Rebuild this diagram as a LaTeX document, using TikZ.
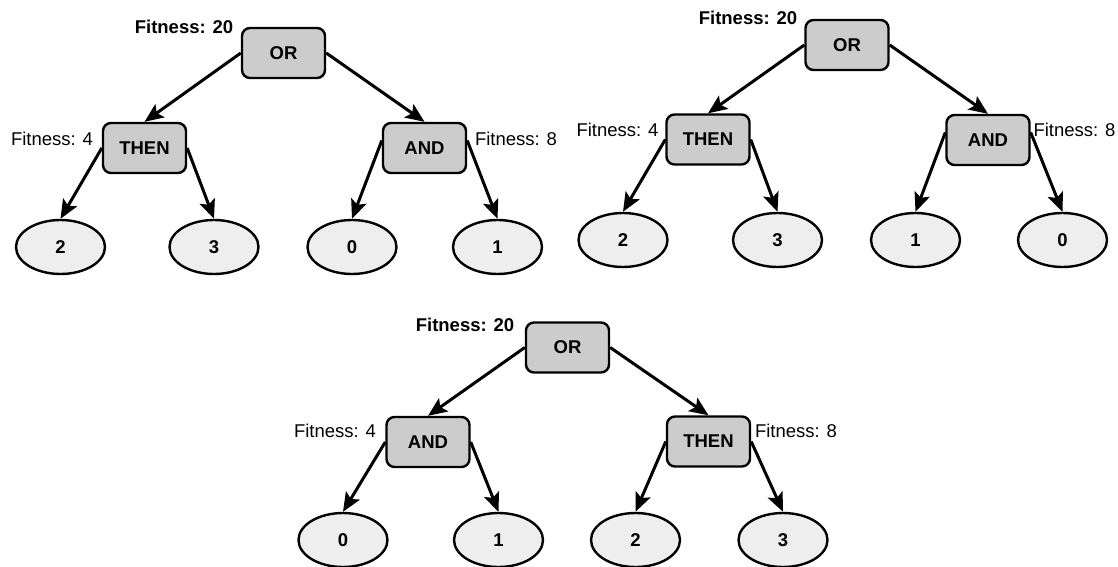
\documentclass[tikz,border=0pt]{standalone}
\usepackage{fontspec}
\setmainfont{Liberation Sans}
\usetikzlibrary{arrows.meta,shapes.geometric}
\definecolor{boxgray}{HTML}{CCCCCC}
\definecolor{leafgray}{HTML}{EEEEEE}
\begin{document}
\begin{tikzpicture}[x=1pt,y=-1pt,
  opbox/.style={draw=black, line width=2.4pt, fill=boxgray, rounded corners=8pt,
    minimum width=83pt, minimum height=50pt, inner sep=0pt,
    font=\fontsize{18.5}{22}\selectfont\bfseries},
  leaf/.style={ellipse, draw=black, line width=2.4pt, fill=leafgray,
    minimum width=89pt, minimum height=54pt, inner sep=0pt,
    font=\fontsize{18.5}{22}\selectfont\bfseries},
  score/.style={inner sep=0pt, font=\fontsize{18.5}{22}\selectfont},
  rootscore/.style={inner sep=0pt, font=\fontsize{18.5}{22}\selectfont\bfseries},
  link/.style={line width=3pt, -{Stealth[length=19pt,width=16pt,inset=4pt]}}
]
\useasboundingbox (0,0) rectangle (1118,567);

% ---- tree A: OR(THEN(2,3), AND(0,1)) ----
\node[opbox] (aor) at (283.5,53) {OR};
\node[opbox] (athen) at (144.5,148) {THEN};
\node[opbox] (aand) at (424.5,148) {AND};
\node[leaf] (a2) at (60.5,247) {2};
\node[leaf] (a3) at (214,247) {3};
\node[leaf] (a0) at (352,247) {0};
\node[leaf] (a1) at (497.5,247) {1};
\node[rootscore] (afit) at (184,27) {Fitness: 20};
\node[score] (afitl) at (52,139) {Fitness: 4};
\node[score] (afitr) at (516,139) {Fitness: 8};
\draw[link] (aor.west) -- (athen.north);
\draw[link] (aor.east) -- (aand.north);
\draw[link] (athen.west) -- (a2.north);
\draw[link] (athen.east) -- (a3.north);
\draw[link] (aand.170) -- (a0.north);
\draw[link] (aand.10) -- (a1.north);

% ---- tree B: OR(THEN(2,3), AND(1,0)) ----
\node[opbox] (bor) at (847,45) {OR};
\node[opbox] (bthen) at (708,139.5) {THEN};
\node[opbox] (band) at (988,140) {AND};
\node[leaf] (b2) at (623,240) {2};
\node[leaf] (b3) at (777.5,240) {3};
\node[leaf] (b1) at (915.5,240) {1};
\node[leaf] (b0) at (1062.5,240) {0};
\node[rootscore] (bfit) at (748,18) {Fitness: 20};
\node[score] (bfitl) at (617.5,130) {Fitness: 4};
\node[score] (bfitr) at (1074.5,130) {Fitness: 8};
\draw[link] (bor.west) -- (bthen.north);
\draw[link] (bor.east) -- (band.north);
\draw[link] (bthen.west) -- (b2.north);
\draw[link] (bthen.east) -- (b3.north);
\draw[link] (band.170) -- (b1.north);
\draw[link] (band.10) -- (b0.north);

% ---- tree C: OR(AND(0,1), THEN(2,3)) ----
\node[opbox] (cor) at (567.5,347.5) {OR};
\node[opbox] (cand) at (428,442) {AND};
\node[opbox] (cthen) at (708.5,441.5) {THEN};
\node[leaf] (c0) at (343,540) {0};
\node[leaf] (c1) at (498.5,540) {1};
\node[leaf] (c2) at (635.5,540) {2};
\node[leaf] (c3) at (783,540) {3};
\node[rootscore] (cfit) at (465,325) {Fitness: 20};
\node[score] (cfitl) at (335,431) {Fitness: 4};
\node[score] (cfitr) at (796,431) {Fitness: 8};
\draw[link] (cor.west) -- (cand.north);
\draw[link] (cor.east) -- (cthen.north);
\draw[link] (cand.west) -- (c0.north);
\draw[link] (cand.east) -- (c1.north);
\draw[link] (cthen.west) -- (c2.north);
\draw[link] (cthen.east) -- (c3.north);
\end{tikzpicture}
\end{document}
